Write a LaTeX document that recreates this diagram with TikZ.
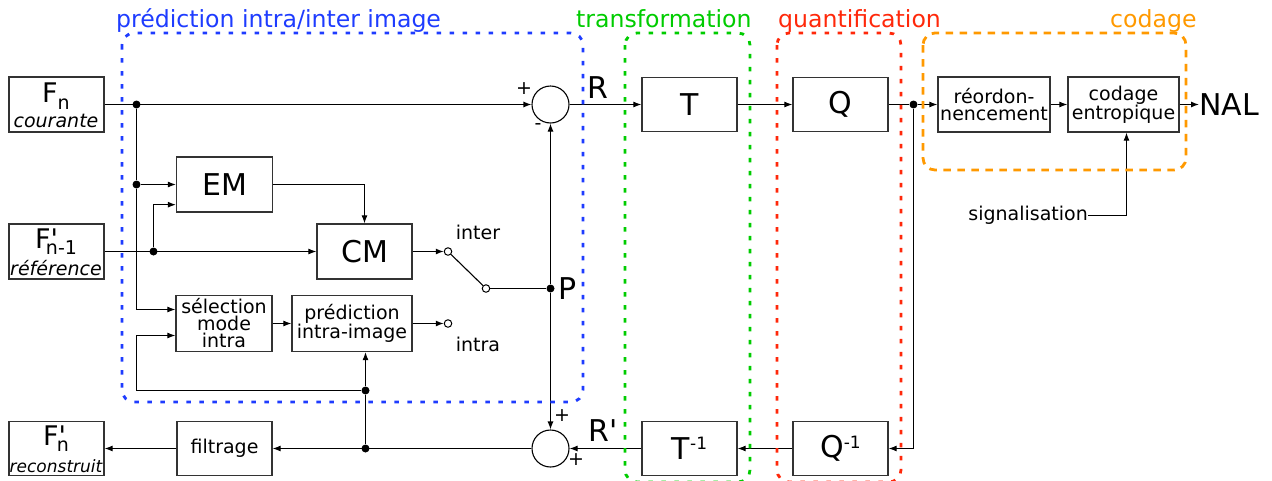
\documentclass[tikz,border=0pt]{standalone}
\usepackage{fontspec}
\newfontfamily\dv{DejaVu Sans}
\usetikzlibrary{arrows.meta,calc}
\definecolor{cblue}{RGB}{30,60,255}
\definecolor{cgreen}{RGB}{0,204,0}
\definecolor{cred}{RGB}{255,40,10}
\definecolor{corange}{RGB}{255,153,0}
\newcommand{\fsz}[1]{\fontsize{#1}{#1}\selectfont}
\begin{document}
\begin{tikzpicture}[x=1pt,y=-1pt,
  every node/.style={font=\dv\fsz{19}, inner sep=0pt},
  blk/.style={draw=black!80, line width=1.3pt, align=center, minimum width=95pt, minimum height=55pt, font=\dv\fontsize{19}{17}\selectfont},
  big/.style={font=\dv\fsz{30}},
  wire/.style={line width=1.1pt},
  arr/.style={line width=1.1pt, -{Latex[length=8pt,width=6pt]}},
  dot/.style={circle, fill=black, minimum size=8pt},
  tap/.style={circle, draw, fill=white, minimum size=7.5pt, line width=1pt},
  sum/.style={circle, draw, minimum size=37pt, line width=1.1pt},
  grp/.style={line width=2.8pt, rounded corners=12pt, dash pattern=on 4.5pt off 8.5pt},
  ttl/.style={font=\dv\fsz{23.6}, anchor=base west},
]
\useasboundingbox (0,0) rectangle (1272,480);

% ---- frame boxes
\node[blk] (fn) at (56.5,104.5) {};
\node[anchor=base] (fnF) at (56,102) {\fsz{27}F\raisebox{-7pt}{\fsz{19}n}};
\node[anchor=base] (fnT) at (56,127) {\itshape courante};

\node[blk] (fr) at (56.5,251.5) {};
\node[anchor=base] (frF) at (56,248) {\fsz{27}F'\hspace{-12pt}\raisebox{-6pt}{\fsz{19}n-1}};
\node[anchor=base] (frT) at (56,275) {\itshape référence};

\node[blk, minimum height=54pt] (fo) at (56.5,448.5) {};
\node[anchor=base] (foF) at (56,445) {\fsz{27}F'\hspace{-9pt}\raisebox{-6pt}{\fsz{19}n}};
\node[anchor=base] (foT) at (56,472.5) {\fsz{17}\itshape reconstruit};

% ---- processing boxes
\node[blk, big, minimum width=96pt] (em) at (224.5,184.5) {EM};
\node[blk, big] (cm) at (364.5,251.5) {CM};
\node[blk, minimum width=96pt, minimum height=56pt] (sel) at (224,323.5) {sélection\\mode\\intra};
\node[blk, minimum width=120pt, minimum height=56pt] (pred) at (352,323.5) {prédiction\\intra-image};
\node[blk, minimum height=54pt] (filt) at (224.5,448.5) {filtrage};
\node[blk, big, minimum height=54pt] (T) at (689.5,104.5) {T};
\node[blk, big, minimum height=54pt] (Q) at (840.5,104.5) {Q};
\node[blk, minimum width=112pt] (reo) at (994,104.5) {réordon-\\nencement};
\node[blk, minimum width=111pt] (cod) at (1123.5,104.5) {codage\\entropique};
\node[blk, big, minimum height=54pt] (Ti) at (689.5,448.5) {T\raisebox{9.5pt}{\fsz{17}-1}};
\node[blk, big, minimum height=54pt] (Qi) at (840.5,448.5) {Q\raisebox{9.5pt}{\fsz{17}-1}};
\node[big, anchor=west] (nal) at (1199,104.5) {NAL};

\node[sum] (s1) at (550.5,104.5) {};
\node[sum] (s2) at (550.5,448.5) {};

% ---- junctions
\node[dot] (d1) at (136.5,104.5) {};
\node[dot] (d2) at (136.5,184.5) {};
\node[dot] (d3) at (153.5,251.5) {};
\node[dot] (dP) at (550.5,288.5) {};
\node[dot] (d4) at (365.5,390.5) {};
\node[dot] (d5) at (365.5,448.5) {};
\node[dot] (d6) at (913.5,104.5) {};
\node[tap] (ti) at (448,251.5) {};
\node[tap] (tp) at (486,288.5) {};
\node[tap] (ta) at (448,323.5) {};
\coordinate (c1) at (136.5,390.5);

% ---- labels
\node[big] (lR) at (598,88) {R};
\node[big] (lRp) at (603,431) {R'};
\node[big] (lP) at (568,288.5) {P};
\node (pl1) at (524,89) {+};
\node (mi1) at (538,127) {-};
\node (pl2) at (562,416) {+};
\node (pl3) at (576,460) {+};
\node[anchor=base] (linter) at (478,239) {inter};
\node[anchor=base] (lintra) at (478,351) {intra};
\node[anchor=base east] (sig) at (1088,220) {signalisation};

% ---- connectors
\draw[arr] (fn.east) -- (s1.west);
\draw[wire] (d1) -- (d2);
\draw[arr] (d2) -- (d2 -| em.west);
\draw[arr] (d2) |- ($(sel.west)+(0,-14)$);
\draw[arr] (fr.east) -- (cm.west);
\draw[arr] (d3) |- ($(em.south west)+(0,-8)$);
\draw[arr] (em.east) -| (cm.north);
\draw[arr] (cm.east) -- (ti);
\draw[wire] (ti) -- (tp);
\draw[wire] (tp) -- (dP);
\draw[arr] (sel.east) -- (pred.west);
\draw[arr] (pred.east) -- (ta);
\draw[arr] (d4) -- (d4 |- pred.south);
\draw[arr] (d4) -- (c1) |- ($(sel.west)+(0,12)$);
\draw[wire] (d5) -- (d4);
\draw[arr] (dP) -- (s1.south);
\draw[arr] (dP) -- (s2.north);
\draw[arr] (s2.west) -- (filt.east);
\draw[arr] (filt.west) -- (fo.east);
\draw[arr] (s1.east) -- (T.west);
\draw[arr] (T.east) -- (Q.west);
\draw[wire] (Q.east) -- (d6);
\draw[arr] (d6) -- (reo.west);
\draw[arr] (reo.east) -- (cod.west);
\draw[arr] (cod.east) -- (nal.west);
\draw[arr] (d6) |- (Qi.east);
\draw[arr] (Qi.west) -- (Ti.east);
\draw[arr] (Ti.west) -- (s2.east);
\draw[arr] (sig.east |- 0,215.5) -| ($(cod.south)+(3,0)$);

% ---- groups
\draw[grp, draw=cblue] (122,33) rectangle (583,402);
\draw[grp, draw=cgreen] (625,33) rectangle (750,482);
\draw[grp, draw=cred] (777,33) rectangle (901,482);
\draw[grp, draw=corange, dash pattern=on 7.5pt off 6.5pt] (923,33) rectangle (1186,170);

\node[ttl, text=cblue] (t1) at (116,27) {prédiction intra/inter image};
\node[ttl, text=cgreen] (t2) at (576,27) {transformation};
\node[ttl, text=cred] (t3) at (778,27) {quantification};
\node[ttl, text=corange] (t4) at (1110,27) {codage};
\end{tikzpicture}
\end{document}
